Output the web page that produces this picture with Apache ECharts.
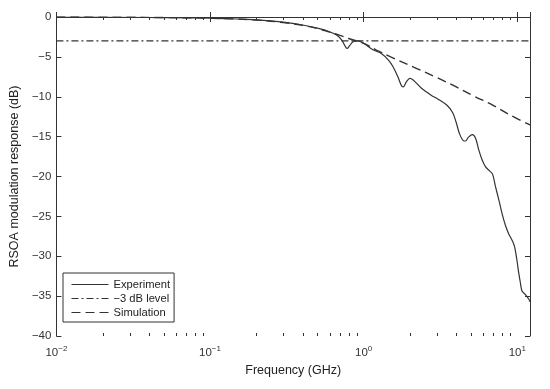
<!DOCTYPE html>
<html><head><meta charset="utf-8">
<script src="https://cdn.jsdelivr.net/npm/echarts@6/dist/echarts.min.js"></script>
<style>html,body{margin:0;padding:0;background:#fff}#c{width:550px;height:389px}</style>
</head><body><div id="c"></div>
<script>
// ---- data ----
const expFreq = [0.01,0.02,0.03,0.05,0.07,0.1,0.15,0.2,0.3,0.4,0.5,0.6,0.67,0.72,0.76,0.78,0.81,0.86,0.92,1.0,1.15,1.31,1.45,1.55,1.67,1.76,1.81,1.9,2.0,2.1,2.37,2.75,3.05,3.5,3.8,4.0,4.2,4.45,4.6,4.8,5.1,5.35,5.62,5.9,6.22,6.6,6.9,7.2,7.6,8.0,8.4,8.8,9.3,9.6,9.95,10.2,10.45,10.7,11.0,11.3,11.6,11.9,12.1];
const expDb   = [0,-0.02,-0.05,-0.08,-0.1,-0.15,-0.25,-0.35,-0.65,-1.0,-1.4,-1.85,-2.3,-2.9,-3.7,-3.95,-3.6,-3.05,-3.0,-3.3,-4.1,-4.6,-5.4,-6.2,-7.5,-8.6,-8.75,-8.1,-7.7,-7.9,-8.9,-9.8,-10.3,-11.1,-12.0,-13.2,-14.6,-15.5,-15.55,-15.1,-14.75,-15.2,-16.7,-17.9,-18.8,-19.3,-19.7,-21.2,-23.0,-24.8,-26.2,-27.2,-28.1,-28.8,-30.5,-32.0,-33.2,-34.3,-34.6,-34.8,-35.1,-35.4,-35.7];
const simFreq = [0.01,0.03,0.05,0.1,0.2,0.3,0.4,0.5,0.6,0.7,0.8,0.93,1.05,1.21,1.5,2.2,3.0,3.98,5.2,6.87,9.0,12.1];
const simDb   = [0,-0.03,-0.07,-0.15,-0.38,-0.7,-1.05,-1.45,-1.9,-2.3,-2.7,-3.1,-3.5,-4.14,-5.0,-6.43,-7.6,-8.74,-9.9,-11.03,-12.3,-13.54];
const levelFreq = [0.01, 12.1];
const levelDb = [-3, -3];
const seriesNames = ['Experiment', '\u22123 dB level', 'Simulation'];
const xMin = 0.01, xMax = 12.1, yMin = -40, yMax = 0, yStep = 5;
// minor log ticks 2..9 x 10^k
const minorTicks = [];
for (let k = -2; k <= 1; k++) for (let m = 2; m <= 9; m++) { const v = m * Math.pow(10, k); if (v < xMax) minorTicks.push(v); }

const axisColor = '#333';
const lineColor = '#333';
const font = 'Liberation Sans, Arial, sans-serif';
const pair = (xs, ys) => xs.map((x, i) => [x, ys[i]]);

function xLabel(v) {
  const e = Math.log10(v);
  if (Math.abs(e - Math.round(e)) > 1e-6) return '';
  const r = Math.round(e);
  return '{b|10}{s|' + (r < 0 ? '\u2212' + (-r) : r) + '}';
}

const chart = echarts.init(document.getElementById('c'), null, {renderer: 'canvas'});
chart.setOption({
  animation: false,
  backgroundColor: '#fff',
  textStyle: {fontFamily: font},
  grid: {left: 52, right: 20, top: 17, bottom: 53, containLabel: false},
  xAxis: [{
    type: 'log', logBase: 10, min: xMin, max: xMax,
    name: 'Frequency (GHz)', nameLocation: 'middle', nameGap: 27,
    nameTextStyle: {color: '#222', fontSize: 12.5, fontFamily: font},
    axisLine: {show: true, lineStyle: {color: axisColor, width: 1}},
    axisTick: {show: true, inside: true, length: 5, lineStyle: {color: axisColor}},
    splitLine: {show: false},
    axisLabel: {
      formatter: xLabel, margin: 9, color: '#333',
      rich: {b: {fontSize: 11.5, fontFamily: font, color: '#333'}, s: {fontSize: 8, fontFamily: font, color: '#333', padding: [0, 0, 8, 0]}}
    }
  }, {
    type: 'log', logBase: 10, min: xMin, max: xMax, position: 'top',
    axisLine: {show: true, onZero: false, lineStyle: {color: axisColor, width: 1}},
    axisTick: {show: true, inside: true, length: 5, lineStyle: {color: axisColor}},
    axisLabel: {show: false}, splitLine: {show: false}
  }],
  yAxis: [{
    type: 'value', min: yMin, max: yMax, interval: yStep,
    name: 'RSOA modulation response (dB)', nameLocation: 'middle', nameGap: 30,
    nameTextStyle: {color: '#222', fontSize: 12.5, fontFamily: font},
    axisLine: {show: true, lineStyle: {color: axisColor, width: 1}},
    axisTick: {show: true, inside: true, length: 5, lineStyle: {color: axisColor}},
    splitLine: {show: false},
    axisLabel: {color: '#333', fontSize: 11.5, margin: 5, formatter: v => (v < 0 ? '\u2212' + (-v) : '' + v)}
  }, {
    type: 'value', min: yMin, max: yMax, interval: yStep, position: 'right',
    axisLine: {show: true, onZero: false, lineStyle: {color: axisColor, width: 1}},
    axisTick: {show: true, inside: true, length: 5, lineStyle: {color: axisColor}},
    axisLabel: {show: false}, splitLine: {show: false}
  }],
  legend: {
    show: true, orient: 'vertical', left: 63, top: 273,
    data: seriesNames,
    itemWidth: 37, itemHeight: 12, itemGap: 3, itemTextGap: 3,
    padding: [6, 4, 4, 8],
    itemStyle: {opacity: 0},
    lineStyle: {width: 1},
    backgroundColor: '#fff', borderColor: '#333', borderWidth: 1, borderRadius: 0,
    textStyle: {fontSize: 11.2, color: '#222', fontFamily: font}
  },
  series: [{
    name: seriesNames[0], type: 'line', data: pair(expFreq, expDb),
    symbol: 'none', smooth: 0.35, z: 5,
    lineStyle: {color: lineColor, width: 1.2, type: 'solid'},
    itemStyle: {color: lineColor}
  }, {
    name: seriesNames[1], type: 'line', data: pair(levelFreq, levelDb),
    symbol: 'none', z: 4,
    lineStyle: {color: lineColor, width: 1.2, type: [7, 3, 2, 3]},
    itemStyle: {color: lineColor}
  }, {
    name: seriesNames[2], type: 'line', data: pair(simFreq, simDb),
    symbol: 'none', smooth: 0.4, z: 4,
    lineStyle: {color: lineColor, width: 1.4, type: [9, 5]},
    itemStyle: {color: lineColor}
  }, {
    type: 'custom', silent: true, z: 10, clip: false,
    data: minorTicks.map(v => [v]),
    renderItem: function (params, api) {
      const f = api.value(0);
      const b = api.coord([f, yMin]);
      const t = api.coord([f, yMax]);
      const st = {stroke: axisColor, lineWidth: 1};
      return {type: 'group', children: [
        {type: 'line', shape: {x1: Math.round(b[0]) + 0.5, y1: b[1], x2: Math.round(b[0]) + 0.5, y2: b[1] - 3}, style: st},
        {type: 'line', shape: {x1: Math.round(t[0]) + 0.5, y1: t[1], x2: Math.round(t[0]) + 0.5, y2: t[1] + 3}, style: st}
      ]};
    }
  }]
});
</script></body></html>
